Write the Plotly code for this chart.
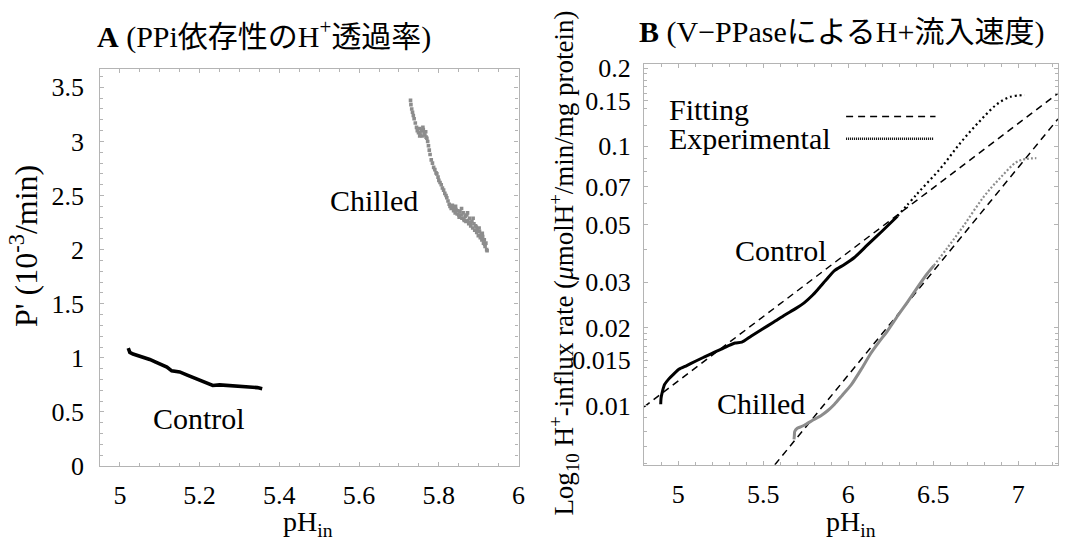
import plotly.graph_objects as go
import math

# ---------------- Data ----------------
# Panel A: PPi-dependent H+ permeability P' (10^-3/min) vs pH_in
ctrlA_ph = [5.021, 5.025, 5.033, 5.048, 5.061, 5.075, 5.09, 5.104, 5.118, 5.13, 5.15, 5.169,
            5.185, 5.199, 5.215, 5.233, 5.25, 5.27, 5.285, 5.3, 5.315, 5.328, 5.345, 5.357]
ctrlA_p = [1.09, 1.05, 1.035, 1.02, 1.0, 0.985, 0.96, 0.935, 0.915, 0.88, 0.87, 0.84,
           0.815, 0.79, 0.765, 0.745, 0.75, 0.745, 0.748, 0.74, 0.735, 0.73, 0.725, 0.715]

chillA_ph = [5.729, 5.730, 5.732, 5.734, 5.736, 5.738, 5.741, 5.744, 5.746, 5.749, 5.751, 5.753,
             5.756, 5.758, 5.761, 5.763, 5.765, 5.767, 5.770, 5.772, 5.774, 5.776, 5.778, 5.781,
             5.784, 5.787, 5.790, 5.793, 5.795, 5.798, 5.800, 5.803, 5.806, 5.809, 5.812, 5.815,
             5.818, 5.820, 5.823, 5.826, 5.828, 5.831, 5.834, 5.837, 5.839, 5.841, 5.843, 5.846,
             5.848, 5.851, 5.853, 5.856, 5.858, 5.861, 5.863, 5.866, 5.868, 5.870, 5.873, 5.875,
             5.877, 5.880, 5.883, 5.885, 5.888, 5.890, 5.892, 5.895, 5.897, 5.899, 5.902, 5.904,
             5.906, 5.908, 5.910, 5.912, 5.914, 5.916, 5.918, 5.920, 5.921,
             5.752, 5.760, 5.768, 5.842, 5.850, 5.857, 5.864, 5.872, 5.879, 5.886, 5.894,
             5.901, 5.909, 5.915]
chillA_p = [3.38, 3.34, 3.30, 3.27, 3.24, 3.21, 3.17, 3.13, 3.10, 3.08, 3.12, 3.07,
            3.10, 3.05, 3.11, 3.08, 3.06, 3.09, 3.03, 3.00, 2.96, 2.92, 2.88, 2.83,
            2.80, 2.76, 2.74, 2.71, 2.70, 2.67, 2.64, 2.62, 2.60, 2.57, 2.55, 2.52,
            2.50, 2.48, 2.45, 2.42, 2.40, 2.38, 2.41, 2.36, 2.39, 2.34, 2.37, 2.33,
            2.36, 2.30, 2.35, 2.32, 2.29, 2.34, 2.28, 2.31, 2.26, 2.32, 2.27, 2.24,
            2.29, 2.22, 2.26, 2.20, 2.24, 2.18, 2.22, 2.16, 2.19, 2.13, 2.17, 2.11,
            2.14, 2.09, 2.12, 2.06, 2.09, 2.03, 2.06, 2.00, 1.99,
            3.05, 3.13, 3.04, 2.40, 2.32, 2.38, 2.27, 2.34, 2.25, 2.29, 2.21,
            2.20, 2.15, 2.05]

# Panel B: H+ influx rate by V-PPase (umol H+/min/mg protein) vs pH_in
ctrlB_ph = [4.897, 4.899, 4.907, 4.92, 4.945, 4.97, 5.004, 5.05, 5.101, 5.15, 5.199, 5.25,
            5.3, 5.335, 5.374, 5.43, 5.491, 5.56, 5.627, 5.69, 5.744, 5.785, 5.821, 5.87,
            5.919, 5.975, 6.036, 6.113, 6.2, 6.289]
ctrlB_rate = [0.01015, 0.0107, 0.01136, 0.0121, 0.01271, 0.0132, 0.01384, 0.0143, 0.01486,
              0.0154, 0.01595, 0.0165, 0.0171, 0.01746, 0.0176, 0.0186, 0.0197, 0.0210,
              0.0224, 0.0237, 0.02506, 0.0265, 0.0281, 0.0306, 0.0332, 0.0350, 0.0373,
              0.0417, 0.0472, 0.0538]
ctrlB_ph_hi = [6.289, 6.405, 6.542, 6.659, 6.776, 6.873, 6.951, 7.039]
ctrlB_rate_hi = [0.0538, 0.0656, 0.0822, 0.103, 0.1256, 0.145, 0.155, 0.1575]

chillB_ph = [5.681, 5.683, 5.685, 5.70, 5.72, 5.744, 5.79, 5.841, 5.88, 5.919, 5.965, 6.016,
             6.075, 6.133, 6.18, 6.23, 6.29, 6.347, 6.405, 6.464, 6.503]
chillB_rate = [0.00743, 0.0077, 0.00797, 0.0082, 0.0083, 0.00844, 0.0088, 0.00919, 0.0096,
               0.01015, 0.0110, 0.01202, 0.0138, 0.01595, 0.0176, 0.01943, 0.0222, 0.02506,
               0.0285, 0.0323, 0.0347]
chillB_ph_hi = [6.503, 6.581, 6.678, 6.795, 6.893, 6.99, 7.05, 7.106]
chillB_rate_hi = [0.0347, 0.0405, 0.0494, 0.0637, 0.0755, 0.0870, 0.0895, 0.090]

fitCtrl_ph = [4.799, 7.233]
fitCtrl_rate = [0.00991, 0.160]
fitChill_ph = [5.568, 7.233]
fitChill_rate = [0.00593, 0.1275]

xA_ticks = [5, 5.2, 5.4, 5.6, 5.8, 6]
yA_ticks = [0, 0.5, 1, 1.5, 2, 2.5, 3, 3.5]
xB_ticks = [5, 5.5, 6, 6.5, 7]
yB_ticks = [0.01, 0.015, 0.02, 0.03, 0.05, 0.07, 0.1, 0.15, 0.2]
yB_minor = [0.006, 0.007, 0.008, 0.009, 0.011, 0.012, 0.013, 0.014, 0.016, 0.017, 0.018,
            0.019, 0.025, 0.04, 0.06, 0.08, 0.09, 0.12, 0.14, 0.16, 0.17, 0.18, 0.19]

# ---------------- Styles ----------------
SERIF = "Liberation Serif, Noto Sans CJK JP, serif"
BLACK = "#000000"
GRAY = "#8c8c8c"
FRAME = "#b4b4b4"
W, H = 1066, 548

fig = go.Figure()

# Panel A
fig.add_trace(go.Scatter(x=ctrlA_ph, y=ctrlA_p, mode="lines",
                         line=dict(color=BLACK, width=3.6), xaxis="x", yaxis="y",
                         showlegend=False))
fig.add_trace(go.Scatter(x=chillA_ph, y=chillA_p, mode="markers",
                         marker=dict(color=GRAY, size=3.6, symbol="square"),
                         xaxis="x", yaxis="y", showlegend=False))

# Panel B fits
dash_fit = "7px,5px"
fig.add_trace(go.Scatter(x=fitCtrl_ph, y=fitCtrl_rate, mode="lines",
                         line=dict(color=BLACK, width=1.5, dash=dash_fit),
                         xaxis="x2", yaxis="y2", showlegend=False))
fig.add_trace(go.Scatter(x=fitChill_ph, y=fitChill_rate, mode="lines",
                         line=dict(color=BLACK, width=1.5, dash=dash_fit),
                         xaxis="x2", yaxis="y2", showlegend=False))
# Panel B experimental
fig.add_trace(go.Scatter(x=ctrlB_ph, y=ctrlB_rate, mode="lines",
                         line=dict(color=BLACK, width=3, shape="spline", smoothing=0.6),
                         xaxis="x2", yaxis="y2", showlegend=False))
fig.add_trace(go.Scatter(x=ctrlB_ph_hi, y=ctrlB_rate_hi, mode="lines",
                         line=dict(color=BLACK, width=2.2, dash="2px,3px", shape="spline"),
                         xaxis="x2", yaxis="y2", showlegend=False))
fig.add_trace(go.Scatter(x=chillB_ph, y=chillB_rate, mode="lines",
                         line=dict(color=GRAY, width=3, shape="spline", smoothing=0.6),
                         xaxis="x2", yaxis="y2", showlegend=False))
fig.add_trace(go.Scatter(x=chillB_ph_hi, y=chillB_rate_hi, mode="lines",
                         line=dict(color=GRAY, width=2.2, dash="2px,2px", shape="spline"),
                         xaxis="x2", yaxis="y2", showlegend=False))

tickfont = dict(family=SERIF, size=26, color=BLACK)
common_axis = dict(showline=True, linecolor=FRAME, linewidth=1.2, mirror="ticks",
                   ticks="inside", tickcolor=FRAME, ticklen=4, showgrid=False,
                   zeroline=False, tickfont=tickfont)

fig.update_layout(
    width=W, height=H,
    margin=dict(l=0, r=0, t=0, b=0),
    font=dict(family=SERIF, color=BLACK),
    paper_bgcolor="white", plot_bgcolor="white",
    xaxis=dict(domain=[101 / W, 522 / W], range=[4.951, 6.0], tickvals=xA_ticks,
               ticktext=[("%g" % v) for v in xA_ticks], anchor="y", ticklabelstandoff=6,
               minor=dict(dtick=0.05, tick0=5, ticks="inside", ticklen=3, tickcolor=FRAME),
               **common_axis),
    yaxis=dict(domain=[1 - 478 / H, 1 - 62.7 / H], range=[0, 3.67], tickvals=yA_ticks,
               ticktext=[("%g" % v) for v in yA_ticks], anchor="x", ticklabelstandoff=10,
               minor=dict(dtick=0.1, tick0=0, ticks="inside", ticklen=3, tickcolor=FRAME),
               **common_axis),
    xaxis2=dict(domain=[648.3 / W, 0.999], range=[4.799, 7.233], tickvals=xB_ticks,
                ticktext=[("%g" % v) for v in xB_ticks], anchor="y2", ticklabelstandoff=6,
                minor=dict(dtick=0.1, tick0=5, ticks="inside", ticklen=3, tickcolor=FRAME),
                **common_axis),
    yaxis2=dict(domain=[1 - 476.7 / H, 1 - 57.3 / H], type="log",
                range=[-2.227, -0.682], tickvals=yB_ticks,
                ticktext=[("%g" % v) for v in yB_ticks], anchor="x2", ticklabelstandoff=7,
                minor=dict(tickvals=yB_minor, ticks="inside", ticklen=3, tickcolor=FRAME),
                **common_axis),
)

ann = []
def txt(text, x, y, size, xref="paper", yref="paper", xanchor="center", yanchor="middle",
        angle=0):
    ann.append(dict(text=text, x=x, y=y, xref=xref, yref=yref, xanchor=xanchor,
                    yanchor=yanchor, textangle=angle, showarrow=False,
                    font=dict(family=SERIF, size=size, color=BLACK)))

# Titles
txt("<b>A</b> (PPi依存性のH<sup>+</sup>透過率)", 266 / W, 1 - 27 / H, 30)
txt("<b>B</b> (V−PPaseによるH+流入速度)", 847 / W, 1 - 24 / H, 30)
# Axis titles
txt("pH<sub>in</sub>", 310 / W, 1 - 538 / H, 28)
txt("pH<sub>in</sub>", 857 / W, 1 - 538 / H, 28)
txt("P' (10<sup>-3</sup>/min)", 24 / W, 1 - 248 / H, 32, angle=-90)
txt("Log<sub>10</sub> H<sup>+</sup>-influx rate (<i>μ</i>molH<sup>+</sup>/min/mg protein)",
    568 / W, 1 - 266 / H, 27, angle=-90)
# In-plot labels
txt("Chilled", 5.638, 2.456, 30, xref="x", yref="y")
txt("Control", 5.1975, 0.44, 30, xref="x", yref="y")
txt("Control", 5.602, math.log10(0.0397), 30, xref="x2", yref="y2")
txt("Chilled", 5.485, math.log10(0.0102), 30, xref="x2", yref="y2")
# Legend (panel B)
txt("Fitting", 671.7 / W, 1 - 105.5 / H, 30, xanchor="left")
txt("Experimental", 671.7 / W, 1 - 135.5 / H, 30, xanchor="left")
fig.update_layout(annotations=ann)

fig.add_shape(type="line", xref="paper", yref="paper", x0=851.7 / W, x1=941.7 / W,
              y0=1 - 112.3 / H, y1=1 - 112.3 / H,
              line=dict(color=BLACK, width=1.5, dash=dash_fit))
fig.add_shape(type="line", xref="paper", yref="paper", x0=851.7 / W, x1=940 / W,
              y0=1 - 135.7 / H, y1=1 - 135.7 / H,
              line=dict(color=BLACK, width=2.5, dash="1px,1px"))

fig.write_html("out.html")
